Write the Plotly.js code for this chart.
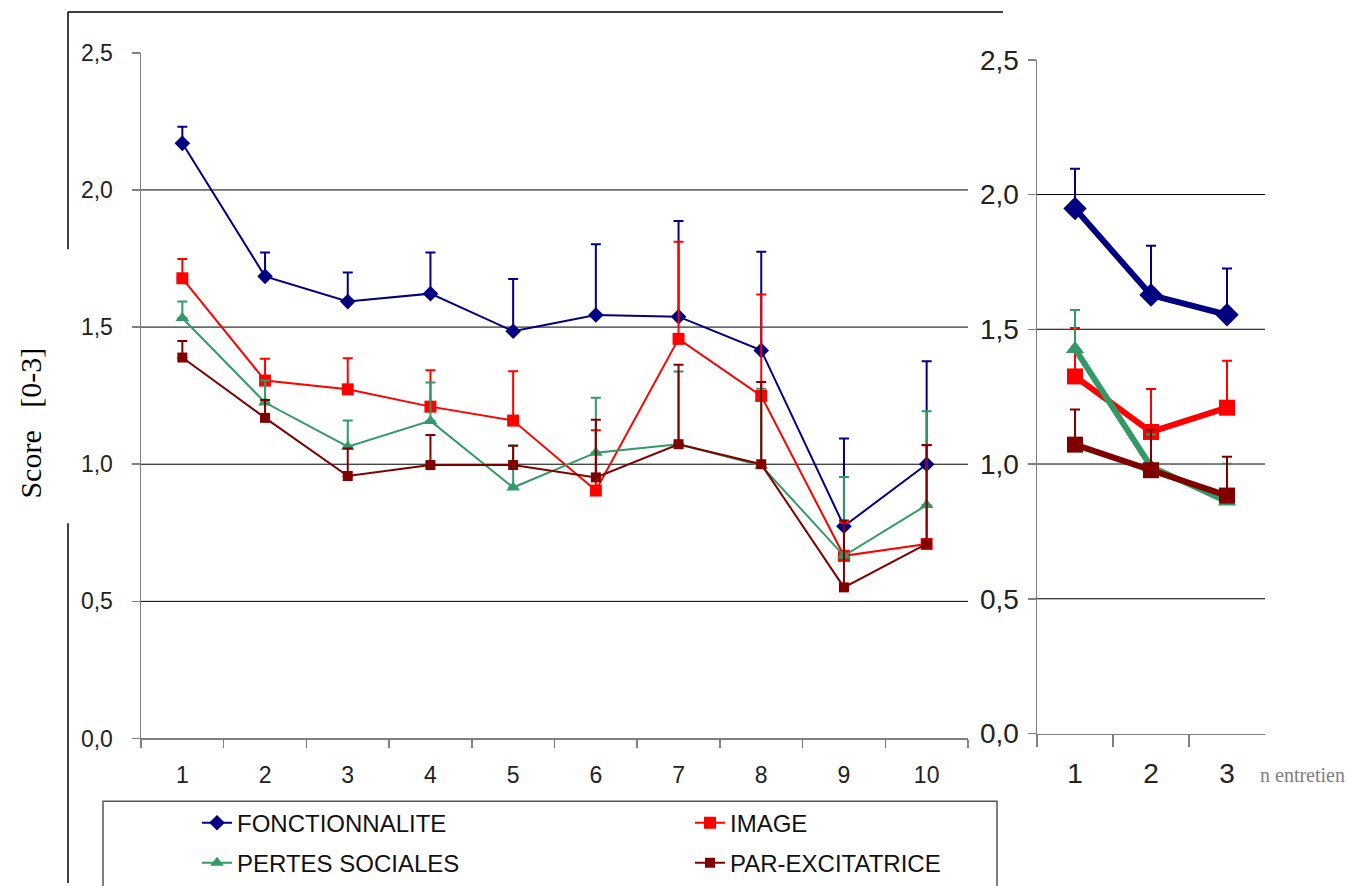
<!DOCTYPE html>
<html>
<head>
<meta charset="utf-8">
<script src="https://cdn.plot.ly/plotly-3.0.1.min.js"></script>
<style>html,body{margin:0;padding:0;background:#fff;}#chart{width:1348px;height:886px;}</style>
</head>
<body>
<div id="chart"></div>
<script>
// ---- data ----
const interviewsLeft = ["1","2","3","4","5","6","7","8","9","10"];
const interviewsRight = ["1","2","3"];
const seriesNames = ["FONCTIONNALITE","IMAGE","PERTES SOCIALES","PAR-EXCITATRICE"];

const fonctLeft    = [2.17, 1.685, 1.593, 1.622, 1.485, 1.544, 1.538, 1.415, 0.774, 1.0];
const fonctLeftErr = [0.06, 0.087, 0.106, 0.15, 0.19, 0.258, 0.349, 0.36, 0.32, 0.375];
const imageLeft    = [1.678, 1.305, 1.273, 1.21, 1.159, 0.904, 1.457, 1.249, 0.666, 0.709];
const imageLeftErr = [0.07, 0.08, 0.113, 0.133, 0.18, 0.22, 0.354, 0.37, 0.12, 0.36];
const pertesLeft   = [1.533, 1.225, 1.064, 1.158, 0.915, 1.042, 1.073, 0.995, 0.666, 0.851];
const pertesLeftErr= [0.06, 0.08, 0.095, 0.14, 0.153, 0.2, 0.265, 0.28, 0.287, 0.342];
const parLeft      = [1.389, 1.169, 0.957, 0.997, 0.997, 0.952, 1.073, 1.0, 0.551, 0.71];
const parLeftErr   = [0.06, 0.065, 0.1, 0.11, 0.07, 0.21, 0.29, 0.30, 0.244, 0.36];

const fonctRight    = [1.948, 1.627, 1.554];
const fonctRightErr = [0.148, 0.183, 0.172];
const imageRight    = [1.325, 1.119, 1.209];
const imageRightErr = [0.18, 0.159, 0.174];
const pertesRight   = [1.427, 0.99, 0.861];
const pertesRightErr= [0.145, 0.12, 0.14];
const parRight      = [1.072, 0.977, 0.883];
const parRightErr   = [0.13, 0.15, 0.144];

const yTickVals = [0, 0.5, 1, 1.5, 2, 2.5];
const yTickText = ["0,0","0,5","1,0","1,5","2,0","2,5"];
const gridVals = [0.5, 1, 1.5, 2];

const colors = ["#000080", "#FF0000", "#339966", "#800000"];
const symbols = ["diamond", "square", "triangle-up", "square"];

// ---- helpers ----
const W = 1348, H = 886;
const px = x => x / W;
const py = y => 1 - y / H;

function mk(xs, ys, errs, i, thick, axis, legendName) {
  const right = axis === 2;
  return {
    type: "scatter", mode: "lines+markers",
    x: xs, y: ys, name: seriesNames[i],
    xaxis: right ? "x2" : "x", yaxis: right ? "y2" : "y",
    showlegend: !right,
    legend: legendName,
    line: {color: colors[i], width: thick ? 6 : 2},
    marker: {color: colors[i], symbol: symbols[i],
             size: thick ? (i === 0 ? 18 : 16) : (i === 3 ? 10 : 12)},
    error_y: {type: "data", symmetric: false, array: errs,
              arrayminus: errs.map(() => 0), color: colors[i],
              thickness: 2, width: 5},
    cliponaxis: false
  };
}

const traces = [
  mk(interviewsLeft, fonctLeft, fonctLeftErr, 0, false, 1, "legend"),
  mk(interviewsLeft, imageLeft, imageLeftErr, 1, false, 1, "legend"),
  mk(interviewsLeft, pertesLeft, pertesLeftErr, 2, false, 1, "legend2"),
  mk(interviewsLeft, parLeft, parLeftErr, 3, false, 1, "legend2"),
  mk(interviewsRight, fonctRight, fonctRightErr, 0, true, 2, "legend"),
  mk(interviewsRight, imageRight, imageRightErr, 1, true, 2, "legend"),
  mk(interviewsRight, pertesRight, pertesRightErr, 2, true, 2, "legend"),
  mk(interviewsRight, parRight, parRightErr, 3, true, 2, "legend")
];

const shapes = [];
gridVals.forEach(v => {
  shapes.push({type: "line", xref: "x domain", yref: "y", x0: 0, x1: 1, y0: v, y1: v,
               line: {color: "#000", width: 1}, layer: "below"});
  shapes.push({type: "line", xref: "x2 domain", yref: "y2", x0: 0, x1: 1, y0: v, y1: v,
               line: {color: "#000", width: 1}, layer: "below"});
});
// outer frame fragments
shapes.push({type: "line", xref: "paper", yref: "paper", x0: px(68), x1: px(1003), y0: py(12), y1: py(12), line: {color: "#000", width: 1.5}});
shapes.push({type: "line", xref: "paper", yref: "paper", x0: px(68), x1: px(68), y0: py(12), y1: py(250), line: {color: "#000", width: 1.5}});
shapes.push({type: "line", xref: "paper", yref: "paper", x0: px(68), x1: px(68), y0: py(525), y1: py(886), line: {color: "#000", width: 1.5}});
// legend box
shapes.push({type: "rect", xref: "paper", yref: "paper", x0: px(103), x1: px(997), y0: py(804), y1: py(890), line: {color: "#555", width: 1.5}});

const tickFontL = {family: "Liberation Sans, Arial, sans-serif", size: 23, color: "#222"};
const tickFontR = {family: "Liberation Sans, Arial, sans-serif", size: 28, color: "#222"};

const layout = {
  width: W, height: H,
  margin: {l: 0, r: 0, t: 0, b: 0},
  paper_bgcolor: "#fff", plot_bgcolor: "rgba(0,0,0,0)",
  showlegend: true,
  xaxis: {
    domain: [px(141), px(968)], anchor: "y", type: "category",
    range: [-0.5, 9.5], showgrid: false, zeroline: false,
    showline: true, linecolor: "#808080", linewidth: 1.5,
    ticks: "outside", tickson: "boundaries", ticklen: 8, tickcolor: "#808080", tickwidth: 1.5,
    tickfont: tickFontL, ticklabelstandoff: 15, fixedrange: true
  },
  yaxis: {
    domain: [py(741), py(53)], anchor: "x", range: [0, 2.5],
    tickvals: yTickVals, ticktext: yTickText,
    showgrid: false, zeroline: false,
    showline: true, linecolor: "#808080", linewidth: 1.5,
    ticks: "outside", ticklen: 8, tickcolor: "#808080", tickwidth: 1.5,
    tickfont: tickFontL, ticklabelstandoff: 14, fixedrange: true
  },
  xaxis2: {
    domain: [px(1037), px(1265)], anchor: "y2", type: "category",
    range: [-0.5, 2.5], showgrid: false, zeroline: false,
    showline: true, linecolor: "#808080", linewidth: 1.5,
    ticks: "outside", tickson: "boundaries", ticklen: 12, tickcolor: "#808080", tickwidth: 1.5,
    tickfont: tickFontR, ticklabelstandoff: 14, fixedrange: true
  },
  yaxis2: {
    domain: [py(736), py(60)], anchor: "x2", range: [0, 2.5],
    tickvals: yTickVals, ticktext: yTickText,
    showgrid: false, zeroline: false,
    showline: true, linecolor: "#808080", linewidth: 1.5,
    ticks: "outside", ticklen: 8, tickcolor: "#808080", tickwidth: 1.5,
    tickfont: tickFontR, ticklabelstandoff: 3, fixedrange: true
  },
  legend: {
    orientation: "h", x: px(197), xanchor: "left", y: py(826), yanchor: "middle",
    entrywidth: 448, entrywidthmode: "pixels", bgcolor: "rgba(0,0,0,0)", borderwidth: 0,
    font: {family: "Liberation Sans, Arial, sans-serif", size: 24, color: "#111"},
    itemclick: false, itemdoubleclick: false
  },
  legend2: {
    orientation: "h", x: px(197), xanchor: "left", y: py(866), yanchor: "middle",
    entrywidth: 448, entrywidthmode: "pixels", bgcolor: "rgba(0,0,0,0)", borderwidth: 0,
    font: {family: "Liberation Sans, Arial, sans-serif", size: 24, color: "#111"},
    itemclick: false, itemdoubleclick: false
  },
  shapes: shapes,
  annotations: [
    {xref: "paper", yref: "paper", x: px(31), y: py(425), text: "Score&nbsp;&nbsp;&nbsp;[0-3]",
     textangle: -90, showarrow: false, xanchor: "center", yanchor: "middle",
     font: {family: "Liberation Serif, Times New Roman, serif", size: 30, color: "#000"}},
    {xref: "paper", yref: "paper", x: px(1258), y: py(778), text: "n entretien",
     showarrow: false, xanchor: "left", yanchor: "middle",
     font: {family: "Liberation Serif, Times New Roman, serif", size: 20, color: "#808080"}}
  ]
};

Plotly.newPlot("chart", traces, layout, {displayModeBar: false, staticPlot: true});
</script>
</body>
</html>
